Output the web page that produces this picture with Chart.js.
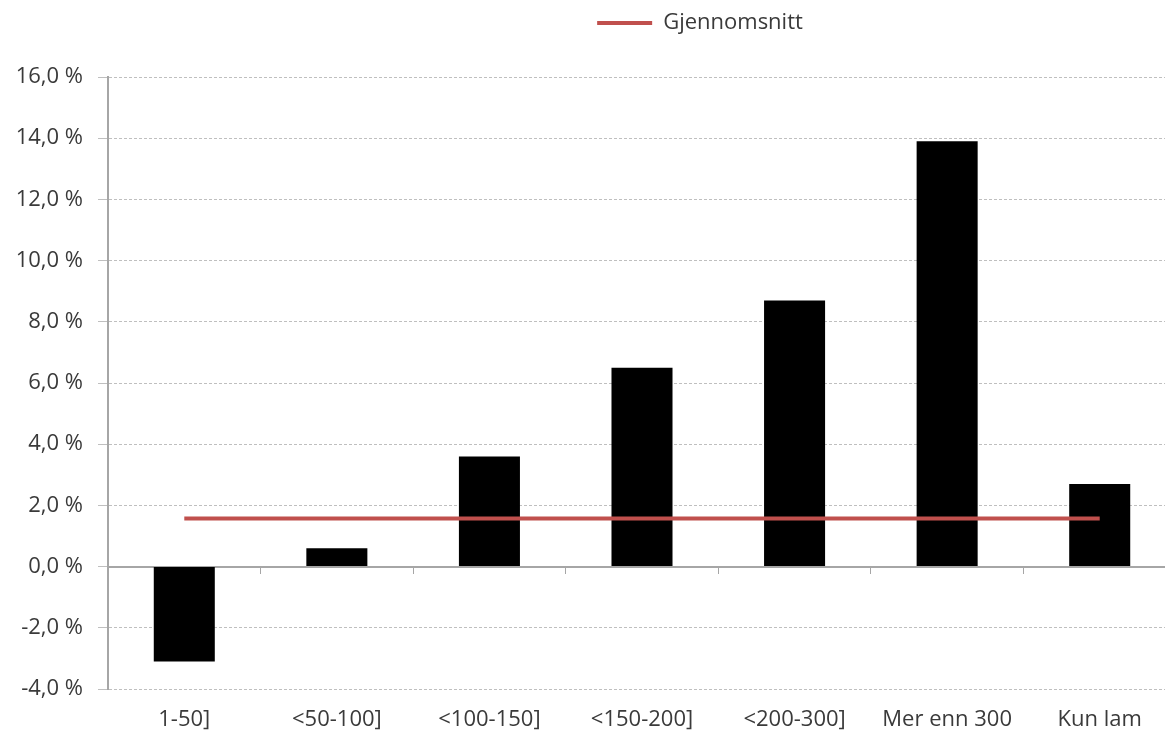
<!DOCTYPE html>
<html>
<head>
<meta charset="utf-8">
<script src="https://cdn.jsdelivr.net/npm/chart.js@4.4.1/dist/chart.umd.min.js"></script>
<style>
  html, body { margin: 0; padding: 0; background: #fff; overflow: hidden; }
  #wrap { width: 1176px; height: 736px; }
</style>
</head>
<body>
<div id="wrap"><canvas id="grafikk"></canvas></div>
<script>
const kategorier = ["1-50]", "<50-100]", "<100-150]", "<150-200]", "<200-300]", "Mer enn 300", "Kun lam"];
const endring = [-3.1, 0.6, 3.6, 6.5, 8.7, 13.9, 2.7];
const gjennomsnitt = [1.57, 1.57, 1.57, 1.57, 1.57, 1.57, 1.57];

const tekstFarge = "#3a3a3a";
const font = { family: "Open Sans", size: 22 };

const fmtProsent = (v) => v.toFixed(1).replace(".", ",") + " %";

// flytter legenden til samme sted som i originalen
const legendeFlytt = {
  id: "legendeFlytt",
  afterLayout(chart) {
    chart.legend.left += 112;
    chart.legend.right += 112;
    chart.legend.top -= 33;
    chart.legend.bottom -= 33;
  },
};

new Chart(document.getElementById("grafikk"), {
  data: {
    labels: kategorier,
    datasets: [
      {
        type: "line",
        label: "Gjennomsnitt",
        data: gjennomsnitt,
        borderColor: "#c0504d",
        backgroundColor: "#c0504d",
        borderWidth: 4,
        pointRadius: 0,
        order: 0,
      },
      {
        type: "bar",
        label: "Endring",
        data: endring,
        backgroundColor: "#000000",
        barPercentage: 0.4,
        categoryPercentage: 1,
        order: 1,
      },
    ],
  },
  options: {
    responsive: true,
    maintainAspectRatio: false,
    animation: false,
    layout: { padding: { top: 33, left: 0, right: 0, bottom: 0 } },
    scales: {
      x: {
        grid: { display: false, drawTicks: false },
        border: { display: false },
        ticks: { color: tekstFarge, font: font, padding: 18, maxRotation: 0, autoSkip: false },
        afterFit(scale) {
          scale.height = 47;
        },
      },
      x2: {
        type: "category",
        labels: kategorier,
        offset: true,
        position: { y: 0 },
        grid: { offset: true, drawOnChartArea: false, tickLength: 6, color: "#a6a6a6" },
        border: { color: "#a6a6a6", width: 2 },
        ticks: { display: false },
      },
      y: {
        min: -4,
        max: 16,
        ticks: {
          stepSize: 2,
          color: tekstFarge,
          font: font,
          padding: 15,
          callback: (v) => fmtProsent(v),
        },
        grid: { color: "#bfbfbf", tickLength: 10 },
        border: { color: "#a6a6a6", width: 2, dash: [3, 2] }, // dash gjelder rutenettet
        afterFit(scale) {
          scale.width = 108;
        },
      },
    },
    plugins: {
      legend: {
        position: "top",
        labels: {
          filter: (item) => item.datasetIndex === 0,
          usePointStyle: true,
          pointStyle: "line",
          pointStyleWidth: 55,
          color: tekstFarge,
          font: font,
          padding: 12,
        },
      },
      tooltip: { enabled: false },
    },
  },
  plugins: [legendeFlytt],
});
</script>
</body>
</html>
